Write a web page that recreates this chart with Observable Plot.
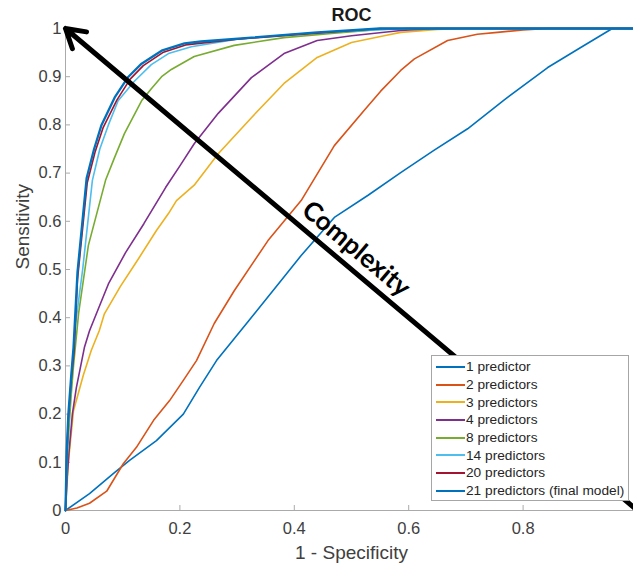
<!DOCTYPE html>
<html>
<head>
<meta charset="utf-8">
<script src="https://cdn.jsdelivr.net/npm/d3@7"></script>
<script src="https://cdn.jsdelivr.net/npm/@observablehq/plot@0.6"></script>
<style>
  html, body { margin: 0; padding: 0; overflow: hidden; background: white; }
  #wrap { position: relative; width: 633px; height: 565px; overflow: hidden; }
  #chart svg { max-width: none !important; display: block; }
  #legend {
    position: absolute; left: 431px; top: 355px; width: 196px; height: 142px;
    background: white; border: 1px solid #a6a6a6; padding-top: 2px; box-sizing: content-box;
    font-family: "Liberation Sans", Arial, sans-serif; font-size: 13.7px; color: #262626;
  }
  .row { display: flex; align-items: center; height: 17.7px; white-space: nowrap; }
  .swatch { display: inline-block; width: 29px; height: 0; border-top: 2px solid; margin-left: 4px; margin-right: 1px; }
</style>
</head>
<body>
<div id="wrap"><div id="chart"></div><div id="legend"></div></div>
<script>
// ---------- data ----------
const seriesNames = ["1 predictor", "2 predictors", "3 predictors", "4 predictors",
  "8 predictors", "14 predictors", "20 predictors", "21 predictors (final model)"];
const seriesColors = ["#0072BD", "#D95319", "#EDB120", "#7E2F8E", "#77AC30", "#4DBEEE", "#A2142F", "#0072BD"];

const fpr1 = [0, 0.042, 0.084, 0.112, 0.159, 0.206, 0.234, 0.264, 0.32, 0.377, 0.412, 0.47, 0.529, 0.586, 0.644, 0.703, 0.766, 0.843, 0.9, 0.956, 1];
const tpr1 = [0, 0.035, 0.077, 0.104, 0.145, 0.2, 0.255, 0.311, 0.393, 0.477, 0.529, 0.608, 0.654, 0.701, 0.747, 0.792, 0.851, 0.919, 0.96, 1, 1];

const fpr2 = [0, 0.02, 0.042, 0.072, 0.101, 0.124, 0.154, 0.182, 0.206, 0.229, 0.26, 0.295, 0.354, 0.412, 0.47, 0.522, 0.551, 0.586, 0.61, 0.668, 0.72, 0.755, 0.8, 0.843, 1];
const tpr2 = [0, 0.005, 0.015, 0.04, 0.097, 0.131, 0.187, 0.228, 0.27, 0.311, 0.388, 0.456, 0.56, 0.643, 0.757, 0.83, 0.87, 0.913, 0.937, 0.975, 0.988, 0.992, 0.997, 1, 1];

const fpr3 = [0, 0.003, 0.005, 0.014, 0.031, 0.045, 0.059, 0.068, 0.096, 0.129, 0.159, 0.18, 0.194, 0.225, 0.267, 0.325, 0.382, 0.44, 0.5, 0.557, 0.586, 0.65, 0.7, 1];
const tpr3 = [0, 0.06, 0.1, 0.207, 0.28, 0.332, 0.373, 0.408, 0.465, 0.525, 0.581, 0.616, 0.643, 0.675, 0.74, 0.815, 0.886, 0.94, 0.971, 0.985, 0.992, 0.998, 1, 1];

const fpr4 = [0, 0.003, 0.006, 0.012, 0.019, 0.033, 0.042, 0.058, 0.075, 0.105, 0.137, 0.175, 0.2, 0.225, 0.267, 0.325, 0.382, 0.44, 0.5, 0.586, 0.65, 1];
const tpr4 = [0, 0.07, 0.12, 0.2, 0.255, 0.338, 0.373, 0.42, 0.47, 0.535, 0.595, 0.67, 0.715, 0.761, 0.824, 0.898, 0.948, 0.975, 0.985, 0.996, 1, 1];

const fpr8 = [0, 0.002, 0.005, 0.01, 0.014, 0.023, 0.04, 0.07, 0.085, 0.103, 0.133, 0.15, 0.168, 0.185, 0.225, 0.295, 0.382, 0.47, 0.55, 0.6, 1];
const tpr8 = [0, 0.08, 0.15, 0.24, 0.3, 0.41, 0.55, 0.685, 0.73, 0.782, 0.85, 0.875, 0.9, 0.915, 0.942, 0.965, 0.981, 0.99, 0.998, 1, 1];

const fpr14 = [0, 0.002, 0.005, 0.01, 0.019, 0.03, 0.047, 0.06, 0.075, 0.092, 0.12, 0.15, 0.18, 0.22, 0.3, 0.4, 0.5, 0.6, 1];
const tpr14 = [0, 0.1, 0.18, 0.27, 0.4, 0.5, 0.685, 0.75, 0.8, 0.85, 0.89, 0.925, 0.948, 0.962, 0.978, 0.988, 0.995, 1, 1];

const fpr20 = [0, 0.002, 0.005, 0.01, 0.015, 0.021, 0.038, 0.052, 0.066, 0.09, 0.113, 0.136, 0.17, 0.21, 0.3, 0.44, 0.55, 1];
const tpr20 = [0, 0.11, 0.19, 0.27, 0.33, 0.48, 0.68, 0.745, 0.795, 0.852, 0.895, 0.923, 0.95, 0.966, 0.978, 0.99, 1, 1];

const fpr21 = [0, 0.002, 0.005, 0.01, 0.014, 0.021, 0.037, 0.05, 0.063, 0.086, 0.11, 0.133, 0.168, 0.208, 0.237, 0.325, 0.44, 0.55, 1];
const tpr21 = [0, 0.12, 0.2, 0.28, 0.338, 0.495, 0.69, 0.75, 0.8, 0.857, 0.9, 0.927, 0.954, 0.969, 0.973, 0.981, 0.992, 1, 1];

// the x = 1 tick sits at the cropped right edge; its label is not visible in the reference
const xTicks = [0, 0.2, 0.4, 0.6, 0.8, 1];
const xTickLabels = ["0", "0.2", "0.4", "0.6", "0.8", ""];
const yTicks = [0, 0.1, 0.2, 0.3, 0.4, 0.5, 0.6, 0.7, 0.8, 0.9, 1];
const yTickLabels = ["0", "0.1", "0.2", "0.3", "0.4", "0.5", "0.6", "0.7", "0.8", "0.9", "1"];

const arrowFrom = [1, 0];
const arrowTo = [0, 1];
const complexityText = "Complexity";
const complexityAt = [0.487, 0.513];

const titleText = "ROC";
const xLabel = "1 - Specificity";
const yLabel = "Sensitivity";

// ---------- build ----------
const fprs = [fpr1, fpr2, fpr3, fpr4, fpr8, fpr14, fpr20, fpr21];
const tprs = [tpr1, tpr2, tpr3, tpr4, tpr8, tpr14, tpr20, tpr21];
const series = seriesNames.map((name, i) => ({
  name, final: i === seriesNames.length - 1,
  points: fprs[i].map((f, j) => ({series: name, fpr: f, tpr: tprs[i][j]}))
}));

const W = 645, H = 565, mL = 65, mR = 8, mT = 28, mB = 55;
const plotW = W - mL - mR, plotH = H - mT - mB;
const font = "'Liberation Sans', Arial, sans-serif";

const chart = Plot.plot({
  width: W, height: H,
  marginLeft: mL, marginRight: mR, marginTop: mT, marginBottom: mB,
  x: {domain: [0, 1], axis: null},
  y: {domain: [0, 1], axis: null},
  color: {domain: seriesNames, range: seriesColors},
  style: {fontFamily: font, background: "white", overflow: "visible", maxWidth: "none"},
  marks: [
    Plot.ruleY([0], {stroke: "#aaaaaa", strokeWidth: 1}),
    Plot.ruleX([0], {stroke: "#aaaaaa", strokeWidth: 1}),
    Plot.tickX(xTicks, {x: d => d, insetTop: plotH - 5, stroke: "#aaaaaa"}),
    Plot.tickY(yTicks, {y: d => d, insetRight: plotW - 5, stroke: "#aaaaaa"}),
    Plot.text(xTicks, {x: d => d, frameAnchor: "bottom", dy: 18, lineAnchor: "middle",
      text: (d, i) => xTickLabels[i], fontSize: 16.5, fill: "#404040"}),
    Plot.text(yTicks, {y: d => d, frameAnchor: "left", dx: -4, textAnchor: "end", lineAnchor: "middle",
      text: (d, i) => yTickLabels[i], fontSize: 16.5, fill: "#404040"}),
    Plot.text([xLabel], {frameAnchor: "bottom", dy: 42, lineAnchor: "middle", text: d => d,
      fontSize: 19, fill: "#404040"}),
    Plot.text([yLabel], {frameAnchor: "left", dx: -43, rotate: -90, lineAnchor: "middle", text: d => d,
      fontSize: 19, fill: "#404040"}),
    Plot.text([titleText], {frameAnchor: "top", dy: -13, lineAnchor: "middle", text: d => d,
      fontSize: 18, fontWeight: "bold", fill: "#1a1a1a"}),
    ...series.map(s => Plot.line(s.points, {x: "fpr", y: "tpr", stroke: "series",
      strokeWidth: s.final ? 2.3 : 1.6, strokeLinejoin: "round"})),
    Plot.arrow([{from: arrowFrom, to: arrowTo}], {
      x1: d => d.from[0], y1: d => d.from[1], x2: d => d.to[0], y2: d => d.to[1],
      stroke: "black", strokeWidth: 5, headLength: 6.4, headAngle: 62
    }),
    Plot.text([complexityText], {x: () => complexityAt[0], y: () => complexityAt[1], text: d => d,
      rotate: 40.1, dx: 12, dy: -14.4, textAnchor: "middle", lineAnchor: "middle",
      fontSize: 26, fontWeight: "bold", fontFamily: "Lato, 'Open Sans', sans-serif", fill: "black"})
  ]
});
chart.style.maxWidth = "none";
document.getElementById("chart").appendChild(chart);

// ---------- legend ----------
const legend = document.getElementById("legend");
seriesNames.forEach((name, i) => {
  const row = document.createElement("div");
  row.className = "row";
  const sw = document.createElement("span");
  sw.className = "swatch";
  sw.style.borderTopColor = seriesColors[i];
  const label = document.createElement("span");
  label.textContent = name;
  row.appendChild(sw); row.appendChild(label);
  legend.appendChild(row);
});
</script>
</body>
</html>
